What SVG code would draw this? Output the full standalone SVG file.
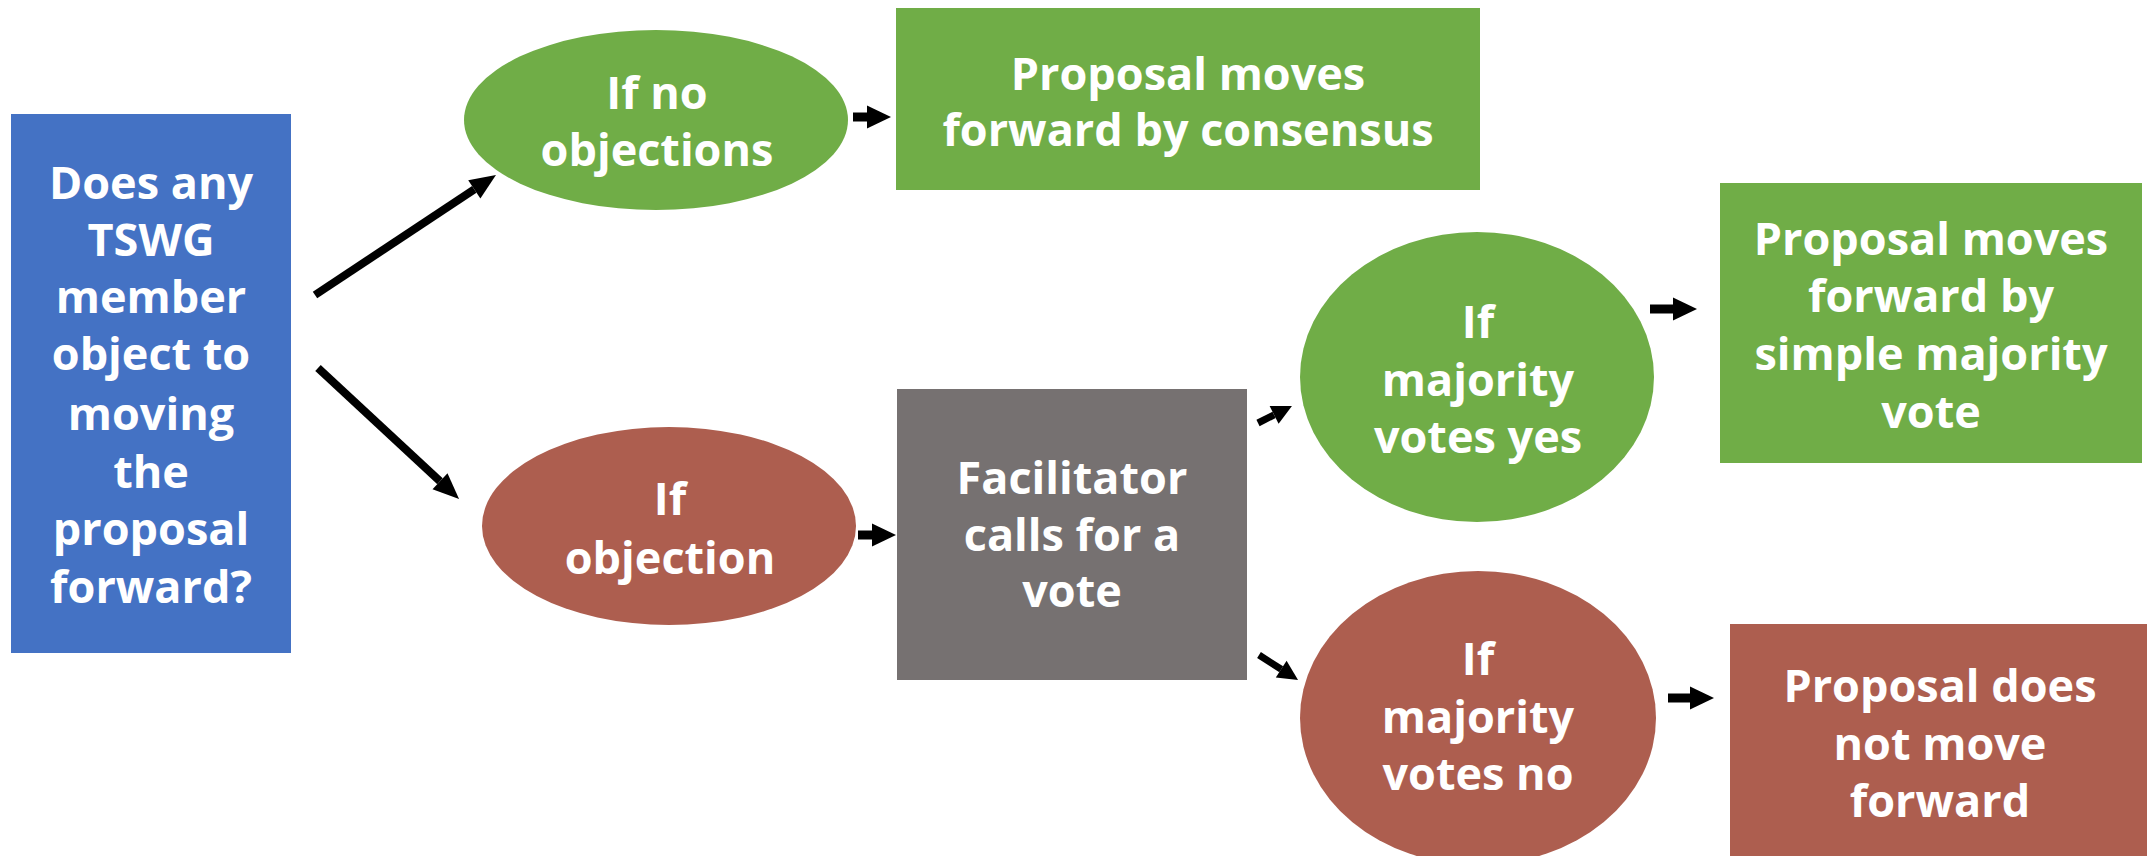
<svg xmlns="http://www.w3.org/2000/svg" width="2154" height="856" viewBox="0 0 2154 856">
  <style>
    .lbl { font-family: "Open Sans", "Noto Sans", "DejaVu Sans", sans-serif; font-weight: 700; font-size: 45px; fill: #ffffff; text-anchor: middle; }
    .blue { fill: #4472C4; }
    .green { fill: #70AD47; }
    .red { fill: #AD5E4F; }
    .gray { fill: #767171; }
    .conn { stroke: #000000; fill: none; }
    .big { stroke-width: 8; marker-end: url(#headBig); }
    .mid { stroke-width: 7; marker-end: url(#headMid); }
    .small { stroke-width: 9; marker-end: url(#headSmall); }
  </style>
  <defs>
    <marker id="headBig" markerUnits="userSpaceOnUse" markerWidth="26" markerHeight="22" refX="0" refY="11" orient="auto" overflow="visible">
      <path d="M0,0 L26,11 L0,22 z" fill="#000000"/>
    </marker>
    <marker id="headMid" markerUnits="userSpaceOnUse" markerWidth="20" markerHeight="20" refX="0" refY="10" orient="auto" overflow="visible">
      <path d="M0,0 L20,10 L0,20 z" fill="#000000"/>
    </marker>
    <marker id="headSmall" markerUnits="userSpaceOnUse" markerWidth="24" markerHeight="23" refX="0" refY="11.5" orient="auto" overflow="visible">
      <path d="M0,0 L24,11.5 L0,23 z" fill="#000000"/>
    </marker>
  </defs>

  <rect width="2154" height="856" fill="#ffffff"/>

  <!-- connectors -->
  <g id="connectors">
    <line class="conn big" x1="315" y1="295" x2="474.3" y2="189.4"/>
    <line class="conn big" x1="318" y1="368" x2="440" y2="481.3"/>
    <line class="conn small" x1="853" y1="117" x2="867" y2="117"/>
    <line class="conn small" x1="858" y1="535" x2="872" y2="535"/>
    <line class="conn mid" x1="1258" y1="423" x2="1274.1" y2="414.9"/>
    <line class="conn mid" x1="1259" y1="655" x2="1281.2" y2="669.2"/>
    <line class="conn small" x1="1650" y1="309" x2="1673" y2="309"/>
    <line class="conn small" x1="1668" y1="698" x2="1690" y2="698"/>
  </g>

  <!-- question -->
  <g id="question">
    <rect class="blue" x="11" y="114" width="280" height="539"/>
    <text class="lbl" x="151" y="199">Does any</text>
    <text class="lbl" x="151" y="256">TSWG</text>
    <text class="lbl" x="151" y="313">member</text>
    <text class="lbl" x="151" y="370">object to</text>
    <text class="lbl" x="151" y="430">moving</text>
    <text class="lbl" x="151" y="488">the</text>
    <text class="lbl" x="151" y="545">proposal</text>
    <text class="lbl" x="151" y="603">forward?</text>
  </g>

  <!-- no objections branch -->
  <g id="no-objections">
    <ellipse class="green" cx="656" cy="120" rx="192" ry="90"/>
    <text class="lbl" x="657" y="109">If no</text>
    <text class="lbl" x="657" y="166">objections</text>
  </g>

  <g id="consensus">
    <rect class="green" x="896" y="8" width="584" height="182"/>
    <text class="lbl" x="1188" y="90">Proposal moves</text>
    <text class="lbl" x="1188" y="146">forward by consensus</text>
  </g>

  <!-- objection branch -->
  <g id="objection">
    <ellipse class="red" cx="669" cy="526" rx="187" ry="99"/>
    <text class="lbl" x="670" y="515">If</text>
    <text class="lbl" x="670" y="574">objection</text>
  </g>

  <g id="vote-call">
    <rect class="gray" x="897" y="389" width="350" height="291"/>
    <text class="lbl" x="1072" y="494">Facilitator</text>
    <text class="lbl" x="1072" y="551">calls for a</text>
    <text class="lbl" x="1072" y="607">vote</text>
  </g>

  <g id="votes-yes">
    <ellipse class="green" cx="1477" cy="377" rx="177" ry="145"/>
    <text class="lbl" x="1478" y="338">If</text>
    <text class="lbl" x="1478" y="396">majority</text>
    <text class="lbl" x="1478" y="453">votes yes</text>
  </g>

  <g id="majority-pass">
    <rect class="green" x="1720" y="183" width="422" height="280"/>
    <text class="lbl" x="1931" y="255">Proposal moves</text>
    <text class="lbl" x="1931" y="312">forward by</text>
    <text class="lbl" x="1931" y="370">simple majority</text>
    <text class="lbl" x="1931" y="428">vote</text>
  </g>

  <g id="votes-no">
    <ellipse class="red" cx="1478" cy="718" rx="178" ry="147"/>
    <text class="lbl" x="1478" y="675">If</text>
    <text class="lbl" x="1478" y="733">majority</text>
    <text class="lbl" x="1478" y="790">votes no</text>
  </g>

  <g id="majority-fail">
    <rect class="red" x="1730" y="624" width="417" height="240"/>
    <text class="lbl" x="1940" y="702">Proposal does</text>
    <text class="lbl" x="1940" y="760">not move</text>
    <text class="lbl" x="1940" y="817">forward</text>
  </g>
</svg>
